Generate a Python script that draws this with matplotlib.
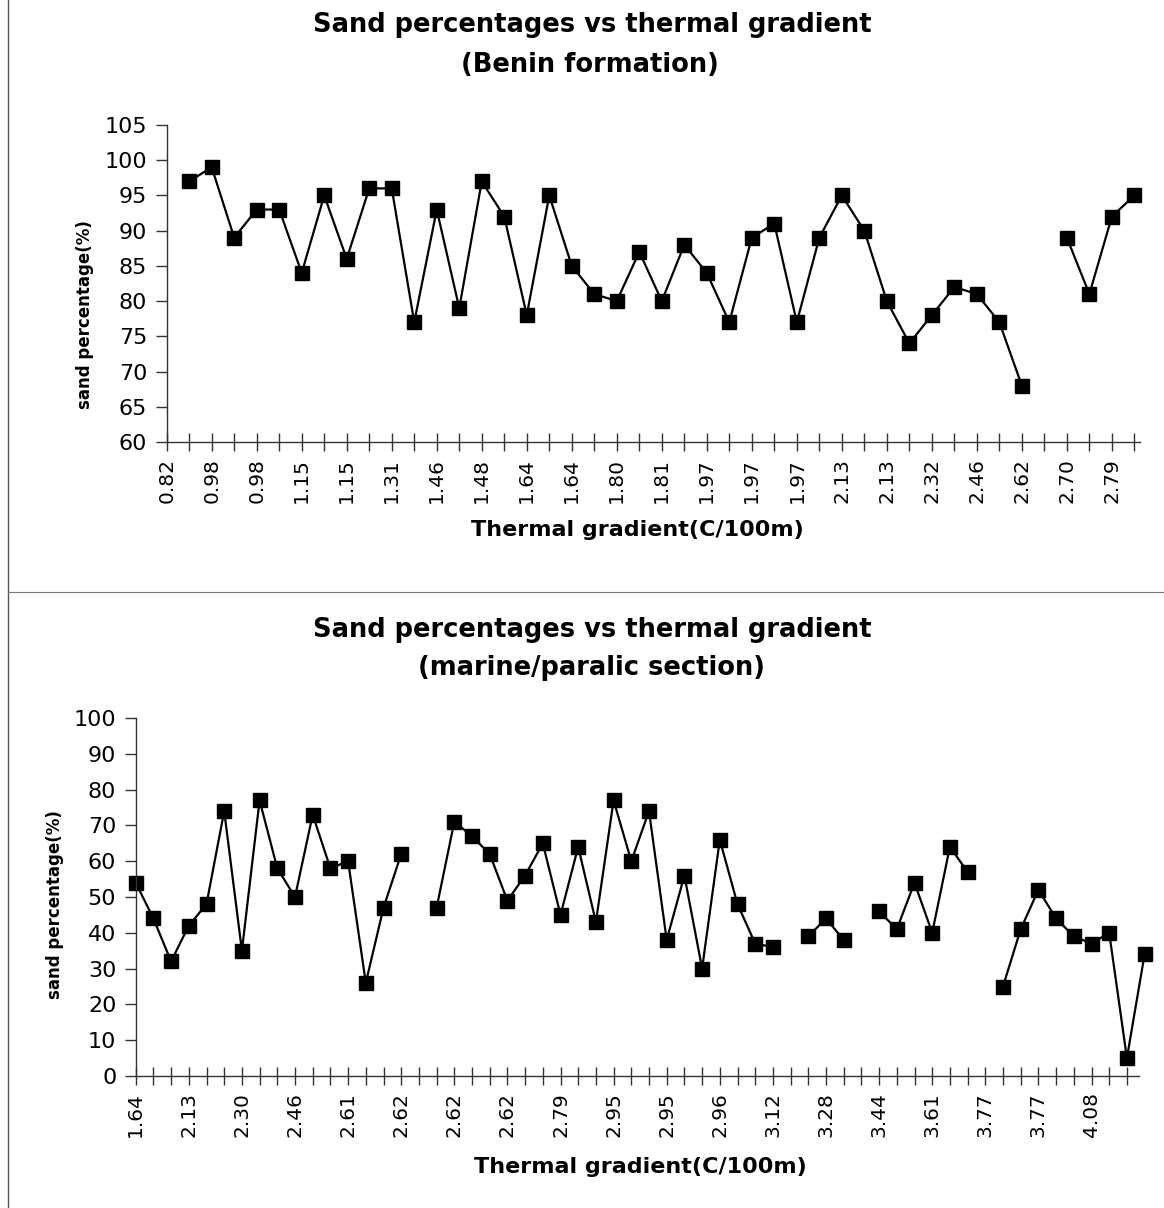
import numpy as np
import matplotlib
matplotlib.use("Agg")
import matplotlib.pyplot as plt
from matplotlib.lines import Line2D

plt.rcParams['font.family'] = ['DejaVu Sans']

# ---------------- data ----------------
top_labels = ["0.82", "0.98", "0.98", "1.15", "1.15", "1.31", "1.46", "1.48",
              "1.64", "1.64", "1.80", "1.81", "1.97", "1.97", "1.97", "2.13",
              "2.13", "2.32", "2.46", "2.62", "2.70", "2.79"]
top_values = [np.nan, 97, 99, 89, 93, 93, 84, 95, 86, 96, 96, 77, 93, 79, 97, 92,
              78, 95, 85, 81, 80, 87, 80, 88, 84, 77, 89, 91, 77, 89, 95,
              90, 80, 74, 78, 82, 81, 77, 68, np.nan, 89, 81, 92, 95]

bot_labels = ["1.64", "2.13", "2.30", "2.46", "2.61", "2.62", "2.62", "2.62",
              "2.79", "2.95", "2.95", "2.96", "3.12", "3.28", "3.44", "3.61",
              "3.77", "3.77", "4.08"]
bot_values = [54, 44, 32, 42, 48, 74, 35, 77, 58, 50, 73, 58, 60, 26, 47, 62,
              np.nan, 47, 71, 67, 62, 49, 56, 65, 45, 64, 43, 77, 60, 74, 38,
              56, 30, 66, 48, 37, 36, np.nan, 39, 44, 38, np.nan, 46, 41, 54,
              40, 64, 57, np.nan, 25, 41, 52, 44, 39, 37, 40, 5, 34]

W, H = 1164, 1208
fig = plt.figure(figsize=(W / 100, H / 100), dpi=100)


def fx(px):
    return px / W


def fy(py):
    return 1 - py / H


def make_axes(left, right, top, bottom):
    return fig.add_axes([fx(left), fy(bottom), fx(right - left), fy(top) - fy(bottom)])


def style(ax):
    for s in ("top", "right"):
        ax.spines[s].set_visible(False)
    for s in ("left", "bottom"):
        ax.spines[s].set_color("#333333")
        ax.spines[s].set_linewidth(1.0)
    ax.tick_params(axis="y", direction="out", length=8, width=1, color="#333333",
                   labelsize=16, pad=6)
    ax.tick_params(axis="x", direction="inout", length=13, width=1, color="#333333",
                   labelsize=14.5, pad=5, labelrotation=90)


TITLE_FS = 18.5

# ---------------- top chart ----------------
ax1 = make_axes(166.7, 1140, 125, 442)
x1 = np.arange(len(top_values))
ax1.plot(x1, top_values, color="black", lw=1.6, marker="s", ms=10,
         mfc="black", mec="black", clip_on=False)
ax1.set_xlim(0, 43.25)
ax1.set_ylim(60, 105)
ax1.set_yticks(np.arange(60, 106, 5))
ax1.set_xticks(x1)
ax1.set_xticklabels([top_labels[i // 2] if i % 2 == 0 else "" for i in x1])
style(ax1)

fig.text(fx(592), fy(25), "Sand percentages vs thermal gradient", ha="center", va="center",
         fontsize=TITLE_FS, fontweight="bold")
fig.text(fx(590), fy(65), "(Benin formation)", ha="center", va="center",
         fontsize=TITLE_FS, fontweight="bold")
fig.text(fx(85), fy(315), "sand percentage(%)", ha="center", va="center",
         rotation=90, fontsize=12, fontweight="bold")
fig.text(fx(637), fy(530), "Thermal gradient(C/100m)", ha="center", va="center",
         fontsize=16, fontweight="bold")

# ---------------- bottom chart ----------------
ax2 = make_axes(135.7, 135.7 + 56.7 * 17.7, 718, 1076)
x2 = np.arange(len(bot_values))
ax2.plot(x2, bot_values, color="black", lw=1.6, marker="s", ms=10,
         mfc="black", mec="black", clip_on=False)
ax2.set_xlim(0, 56.7)
ax2.set_ylim(0, 100)
ax2.set_yticks(np.arange(0, 101, 10))
ax2.set_xticks(np.arange(57))
ax2.set_xticklabels([bot_labels[i // 3] if i % 3 == 0 else "" for i in range(57)])
style(ax2)

fig.text(fx(592), fy(630), "Sand percentages vs thermal gradient", ha="center", va="center",
         fontsize=TITLE_FS, fontweight="bold")
fig.text(fx(592), fy(668), "(marine/paralic section)", ha="center", va="center",
         fontsize=TITLE_FS, fontweight="bold")
fig.text(fx(55), fy(905), "sand percentage(%)", ha="center", va="center",
         rotation=90, fontsize=12, fontweight="bold")
fig.text(fx(640), fy(1167), "Thermal gradient(C/100m)", ha="center", va="center",
         fontsize=16, fontweight="bold")

# ---------------- frame lines ----------------
fig.add_artist(Line2D([fx(8), fx(8)], [0, 1], color="#555555", lw=1.0))
fig.add_artist(Line2D([fx(8), 1], [fy(592), fy(592)], color="#777777", lw=0.8))

fig.savefig("out.png", dpi=100)
